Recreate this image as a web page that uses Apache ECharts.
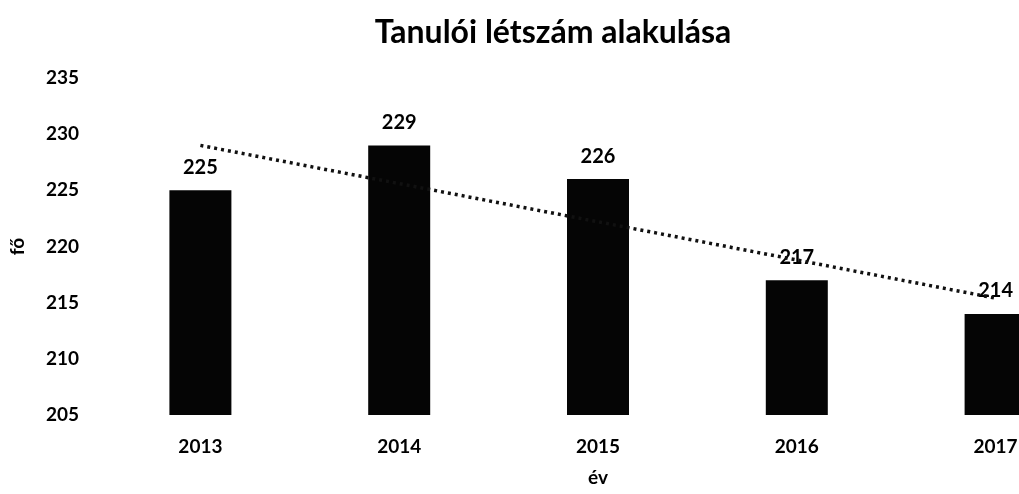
<!DOCTYPE html>
<html><head><meta charset="utf-8">
<script src="https://cdn.jsdelivr.net/npm/echarts@6/dist/echarts.min.js"></script>
<style>html,body{margin:0;padding:0;background:#fff;overflow:hidden}#c{width:1100px;height:494px}</style>
</head><body><div id="c"></div>
<script>
const years = ['2013','2014','2015','2016','2017'];
const students = [225, 229, 226, 217, 214];
const trend = [229.0, 225.6, 222.2, 218.8, 215.4];
const yTicks = {min: 205, max: 235, interval: 5};

const chart = echarts.init(document.getElementById('c'));
const font = 'Lato, "Open Sans", sans-serif';
chart.setOption({
  backgroundColor: '#fff',
  animation: false,
  title: {
    text: 'Tanulói létszám alakulása', left: 548, textAlign: 'center', top: 12,
    textStyle: {fontFamily: font, fontWeight: 'bold', fontSize: 32, color: '#000'}
  },
  grid: {left: 100, right: 5, top: 78, bottom: 79, containLabel: false},
  xAxis: {
    type: 'category', data: years,
    name: 'év', nameLocation: 'middle', nameGap: 53, nameMoveOverlap: false,
    nameTextStyle: {fontFamily: font, fontWeight: 'bold', fontSize: 19, color: '#000'},
    axisLine: {show: false}, axisTick: {show: false},
    axisLabel: {margin: 22, fontFamily: font, fontWeight: 'bold', fontSize: 19, color: '#000'}
  },
  yAxis: {
    type: 'value', min: yTicks.min, max: yTicks.max, interval: yTicks.interval,
    name: 'fő', nameLocation: 'middle', nameGap: 74, nameRotate: 90, nameMoveOverlap: false,
    nameTextStyle: {fontFamily: font, fontWeight: 'bold', fontSize: 19, color: '#000'},
    axisLine: {show: false}, axisTick: {show: false}, splitLine: {show: false},
    axisLabel: {margin: 22, fontFamily: font, fontWeight: 'bold', fontSize: 19, color: '#000'}
  },
  series: [
    {
      type: 'bar', data: students, barWidth: 62,
      itemStyle: {color: '#050505'},
      label: {show: true, position: 'top', distance: 13, fontFamily: font, fontWeight: 'bold', fontSize: 20, color: '#000'}
    },
    {
      type: 'line', data: trend, symbol: 'none', z: 5,
      lineStyle: {color: '#111', width: 3.5, type: [3, 4]}
    }
  ]
});
</script></body></html>
